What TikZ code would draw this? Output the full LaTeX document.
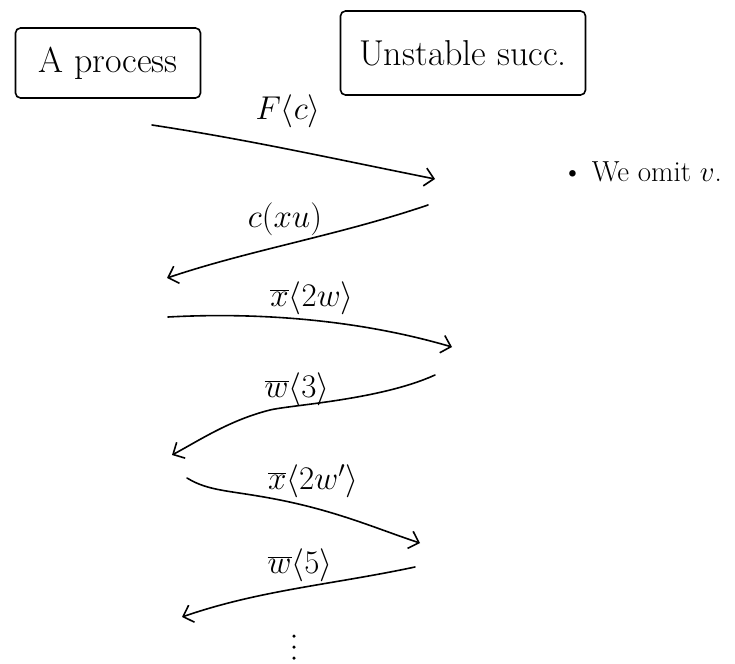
\RequirePackage{fix-cm}
\documentclass[tikz,border=0pt]{standalone}
\usetikzlibrary{arrows.meta}
\begin{document}
\begin{tikzpicture}[x=1pt,y=-1pt,
  hand/.style={line width=1.6pt, line cap=round, line join=round},
  msg/.style={hand, -{Straight Barb[length=9pt,width=18pt,line width=1.6pt]}},
  boxlab/.style={draw, line width=1.6pt, rounded corners=5pt, inner sep=0pt, font=\fontsize{36}{40}\selectfont},
  lab/.style={font=\fontsize{33}{38}\selectfont, inner sep=1pt},
  note/.style={font=\fontsize{29}{34}\selectfont, anchor=west, inner sep=0pt},
  dotmark/.style={circle, fill, inner sep=0pt, minimum size=3.5pt}]
\useasboundingbox (0,0) rectangle (735,663);

% boxes
\node[boxlab, minimum width=185pt, minimum height=70pt] (proc) at (108,63) {A process};
\node[boxlab, minimum width=245pt, minimum height=84pt] (unst) at (463,53) {Unstable succ.};

% message end points
\coordinate (s1) at (152,125); \coordinate (e1) at (435,179);
\coordinate (s2) at (428,205); \coordinate (e2) at (167,278);
\coordinate (s3) at (168,317); \coordinate (e3) at (452,347);
\coordinate (s4) at (435,375); \coordinate (e4) at (172,455);
\coordinate (s5) at (187,478); \coordinate (e5) at (420,543);
\coordinate (s6) at (415,567); \coordinate (e6) at (182,617);

% messages
\draw[msg] (s1) .. controls (250,140) and (330,158) .. (e1);
\draw[msg] (s2) .. controls (340,235) and (250,250) .. (e2);
\draw[msg] (s3) .. controls (260,312) and (360,320) .. (e3);
\draw[msg] (s4) .. controls (380,400) and (290,405) .. (270,410) .. controls (230,420) and (200,440) .. (e4);
\draw[msg] (s5) .. controls (210,492) and (230,490) .. (280,500) .. controls (340,512) and (380,530) .. (e5);
\draw[msg] (s6) .. controls (330,585) and (260,590) .. (e6);

% labels
\node[lab] (l1) at (288,111) {$F\langle c\rangle$};
\node[lab] (l2) at (285,219) {$c(xu)$};
\node[lab] (l3) at (312,298) {$\overline{x}\langle 2w\rangle$};
\node[lab] (l4) at (297,389) {$\overline{w}\langle 3\rangle$};
\node[lab] (l5) at (313,481) {$\overline{x}\langle 2w'\rangle$};
\node[lab] (l6) at (300,565) {$\overline{w}\langle 5\rangle$};

% continuation dots
\node[dotmark] (d1) at (294,636) {};
\node[dotmark] (d2) at (294,647) {};
\node[dotmark] (d3) at (294,658) {};

% note
\node[note] (nt) at (562,172) {\textbullet\ We omit $v$.};
\end{tikzpicture}
\end{document}
